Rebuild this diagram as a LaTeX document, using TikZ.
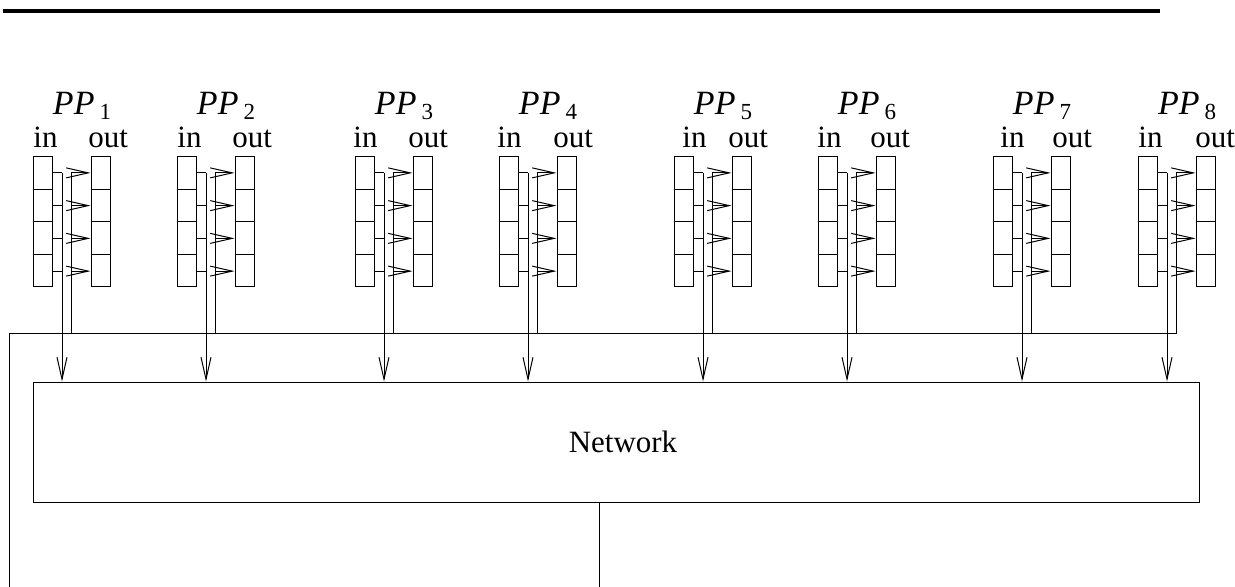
\documentclass[tikz,border=0pt]{standalone}
\usepackage{fontspec}
\setmainfont{Liberation Serif}
\usetikzlibrary{arrows.meta,calc,positioning}
\tikzset{
  fifo/.style={draw, line width=0.5pt, inner sep=0pt, minimum width=9.5pt, minimum height=65pt},
  netbox/.style={draw, line width=0.5pt, inner sep=0pt, minimum width=583pt, minimum height=60pt},
  feed/.style={-{Straight Barb[length=11pt,width=5pt]}, line width=0.5pt},
  wire/.style={line width=0.5pt},
  rule/.style={line width=1.6pt},
  note/.style={font=\fontsize{15.5}{18}\selectfont, inner sep=0pt},
  tag/.style={font=\fontsize{17}{20}\selectfont\itshape, inner sep=0pt}
}

\begin{document}
\begin{tikzpicture}[x=0.5pt,y=-0.5pt]
  \useasboundingbox (0,0) rectangle (1235,587);
  \draw[rule] (3,11)--(1160,11);
  \node[netbox, note] (net) at (616,442) {\hspace*{7pt}Network};
  \coordinate (bus) at (9,334);
  \coordinate (corner) at (9,587);
  \coordinate (drop) at (599,587);
  % one processor: in queue, out queue, taps
  \foreach \k/\x/\a/\b in {1/33/0/55, 2/177/0/55, 3/355/-2/53, 4/499/-2/54, 5/674/8/54, 6/818/-1/52, 7/993/7/59, 8/1138/0/57}{
    \node[fifo] (in\k) at ({\x+9.5},222) {};
    \node[fifo] (out\k) at ({\x+67.5},222) {};
    \node[tag, anchor=base] (pp\k) at ({\x+49},115) {PP\kern2.5pt\raisebox{-2.5pt}{\fontsize{11.5}{12}\selectfont\upshape\k}};
    \node[note, anchor=base west] (inl\k) at ({\x+\a},148) {in};
    \node[note, anchor=base west] (outl\k) at ({\x+\b},148) {out};
    \coordinate (iv\k) at ({\x+29},173);
    \coordinate (ov\k) at ({\x+38},173);
    \foreach \i in {1,2,3}{
      \draw[wire] ($(in\k.north west)!\i/4!(in\k.south west)$) -- ($(in\k.north east)!\i/4!(in\k.south east)$);
      \draw[wire] ($(out\k.north west)!\i/4!(out\k.south west)$) -- ($(out\k.north east)!\i/4!(out\k.south east)$);
    }
    \foreach \i in {1,...,4}{
      \coordinate (s) at ($(in\k.north east)!{(\i-0.5)/4}!(in\k.south east)$);
      \coordinate (t) at ($(out\k.north west)!{(\i-0.5)/4}!(out\k.south west)$);
      \draw[wire] (s) -- (s -| iv\k);
      \draw[feed] (t -| ov\k) -- (t);
    }
    \draw[feed] (iv\k) -- (iv\k |- net.north);
    \draw[wire] (ov\k |- bus) -- (ov\k);
  }
  \draw[wire] (corner) -- (bus) -- (bus -| ov8);
  \draw[wire] (net.south -| drop) -- (drop);
\end{tikzpicture}
\end{document}
